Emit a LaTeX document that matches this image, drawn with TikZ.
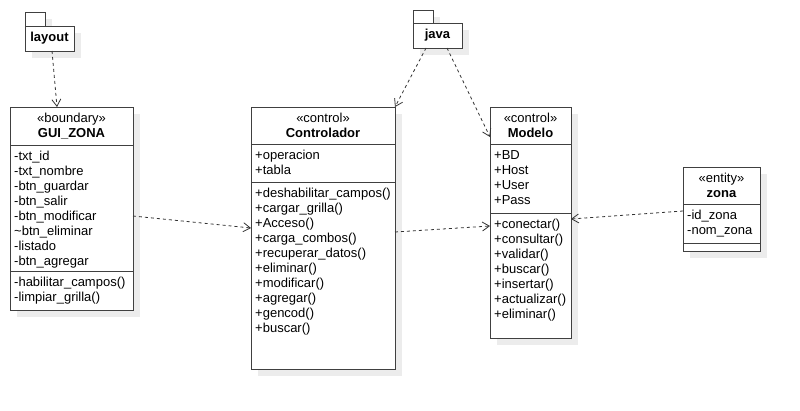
\documentclass[tikz,border=0pt]{standalone}
\usepackage{fontspec}
\setmainfont{Liberation Sans}
\usetikzlibrary{arrows.meta,shadows}

\definecolor{umlline}{RGB}{64,64,64}
\definecolor{umlshade}{RGB}{236,236,236}

\tikzset{
  umlsep/.style={draw=umlline,line width=1pt},
  umldep/.style={draw=umlline!80!black,line width=0.8pt,dash pattern=on 3pt off 3pt,
    -{Straight Barb[length=7pt,width=9pt]}}
}

\begin{document}
\begin{tikzpicture}[x=1pt,y=-1pt,font=\fontsize{13}{15}\selectfont]

        \useasboundingbox (0,0) rectangle (800,410);

        \begin{scope}[every node/.style={draw=umlline,fill=white,line width=1pt,inner sep=0pt,outer sep=0pt,
            drop shadow={shadow xshift=7pt,shadow yshift=-7pt,fill=umlshade,opacity=1}}]
          \node[minimum width=20pt,minimum height=14pt] (layouttab) at (35,19) {};
          \node[minimum width=49pt,minimum height=25pt,font=\fontsize{13}{15}\selectfont\bfseries] (layout) at (49.5,38.5) {layout};
          \node[minimum width=20pt,minimum height=13pt] (javatab) at (423,16.5) {};
          \node[minimum width=49pt,minimum height=25pt,font=\fontsize{13}{15}\selectfont\bfseries] (java) at (437.5,35.5) {java};
          \node[minimum width=123pt,minimum height=203pt] (gui)    at (71.5,208.5) {};
          \node[minimum width=144pt,minimum height=262pt] (ctrl)   at (323,238)    {};
          \node[minimum width=81pt,minimum height=231pt]  (modelo) at (530.5,222.5) {};
          \node[minimum width=77pt,minimum height=84pt]   (zona)   at (721.5,209)  {};
        \end{scope}

        % compartments
        \draw[umlsep] (gui.west |- 0,145) -- (gui.east |- 0,145);
        \draw[umlsep] (gui.west |- 0,271) -- (gui.east |- 0,271);
        \draw[umlsep] (ctrl.west |- 0,144) -- (ctrl.east |- 0,144);
        \draw[umlsep] (ctrl.west |- 0,182) -- (ctrl.east |- 0,182);
        \draw[umlsep] (modelo.west |- 0,144) -- (modelo.east |- 0,144);
        \draw[umlsep] (modelo.west |- 0,213) -- (modelo.east |- 0,213);
        \draw[umlsep] (zona.west |- 0,204.5) -- (zona.east |- 0,204.5);
        \draw[umlsep] (zona.west |- 0,243) -- (zona.east |- 0,243);

        \begin{scope}[every node/.style={inner sep=0pt,align=left,anchor=north west}]
          \node[align=center,anchor=north] (guihead) at (71.5,111.5) {\strut«boundary»\\\textbf{GUI\_ZONA}};
          \node (guiattr) at (14,149.5) {\strut-txt\_id\\-txt\_nombre\\-btn\_guardar\\-btn\_salir\\-btn\_modificar\\\textasciitilde btn\_eliminar\\-listado\\-btn\_agregar};
          \node (guiops) at (14,275.5) {\strut-habilitar\_campos()\\-limpiar\_grilla()};

          \node[align=center,anchor=north] (ctrlhead) at (323,111.5) {\strut«control»\\\textbf{Controlador}};
          \node (ctrlattr) at (255,148.5) {\strut+operacion\\+tabla};
          \node (ctrlops) at (255,186.5) {\strut+deshabilitar\_campos()\\+cargar\_grilla()\\+Acceso()\\+carga\_combos()\\+recuperar\_datos()\\+eliminar()\\+modificar()\\+agregar()\\+gencod()\\+buscar()};

          \node[align=center,anchor=north] (modelohead) at (530.5,111.5) {\strut«control»\\\textbf{Modelo}};
          \node (modeloattr) at (494,148.5) {\strut+BD\\+Host\\+User\\+Pass};
          \node (modeloops) at (494,217.5) {\strut+conectar()\\+consultar()\\+validar()\\+buscar()\\+insertar()\\+actualizar()\\+eliminar()};

          \node[align=center,anchor=north] (zonahead) at (721.5,171.5) {\strut«entity»\\\textbf{zona}};
          \node (zonaattr) at (687,209) {\strut-id\_zona\\-nom\_zona};
        \end{scope}

        % dependencies
        \path ([xshift=2.5pt]layout.south) edge[umldep] ([xshift=-14.5pt]gui.north);
        \path ([xshift=-11.5pt]java.south) edge[umldep] (ctrl.north east);
        \path ([xshift=9.5pt]java.south)   edge[umldep] ([yshift=-30pt]modelo.north west);
        \path ([yshift=-7.5pt]gui.east)    edge[umldep] ([yshift=10pt]ctrl.west);
        \path ([yshift=6pt]ctrl.east)      edge[umldep] ([yshift=-3.5pt]modelo.west);
        \path ([yshift=-2pt]zona.west)     edge[umldep] ([yshift=3.5pt]modelo.east);

      \end{tikzpicture}
\end{document}
